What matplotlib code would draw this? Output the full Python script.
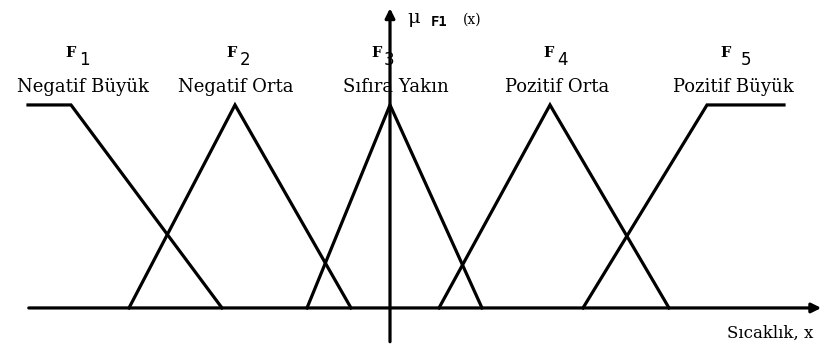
import matplotlib.pyplot as plt

# membership function breakpoints (x in arbitrary temperature units, y = membership)
f1_x = [-36.2, -31.9, -16.8]
f1_y = [1, 1, 0]
f2_x = [-26.1, -15.5, -3.9]
f2_y = [0, 1, 0]
f3_x = [-8.3, 0.0, 9.2]
f3_y = [0, 1, 0]
f4_x = [4.9, 16.0, 27.9]
f4_y = [0, 1, 0]
f5_x = [19.3, 31.7, 39.4]
f5_y = [0, 1, 1]

names = ["Negatif Büyük", "Negatif Orta", "Sıfıra Yakın", "Pozitif Orta", "Pozitif Büyük"]
subs = ["1", "2", "3", "4", "5"]
name_x = [-30.7, -15.4, 0.6, 16.7, 34.3]
f_x = [-31.9, -15.8, -1.3, 15.9, 33.6]
sub_dx = [1.3, 1.3, 1.2, 1.3, 2.0]

fig = plt.figure(figsize=(8.24, 3.52), dpi=100)
ax = fig.add_axes([0, 0, 1, 1])
ax.set_xlim(-39.0, 43.4)
ax.set_ylim(-0.217, 1.517)
ax.axis("off")

lw = 2.3
for xs, ys in [(f1_x, f1_y), (f2_x, f2_y), (f3_x, f3_y), (f4_x, f4_y), (f5_x, f5_y)]:
    ax.plot(xs, ys, color="black", lw=lw, solid_joinstyle="miter")

# axes with arrows
ax.annotate("", xy=(43.4, 0), xytext=(-36.4, 0),
            arrowprops=dict(arrowstyle="-|>", color="black", lw=lw, mutation_scale=14))
ax.annotate("", xy=(0, 1.49), xytext=(0, -0.18),
            arrowprops=dict(arrowstyle="-|>", color="black", lw=lw, mutation_scale=14))

for i in range(5):
    ax.text(name_x[i], 1.09, names[i], ha="center", va="center",
            fontsize=13, family="DejaVu Serif")
    ax.text(f_x[i], 1.256, "F", ha="center", va="center",
            fontsize=10.5, family="DejaVu Serif", fontweight="bold")
    ax.text(f_x[i] + sub_dx[i], 1.22, subs[i], ha="center", va="center",
            fontsize=12, family="DejaVu Sans")

ax.text(1.7, 1.43, "μ", ha="left", va="center", fontsize=14, family="DejaVu Serif")
ax.text(4.1, 1.41, "F1", ha="left", va="center", fontsize=10, family="DejaVu Sans Mono",
        fontweight="bold")
ax.text(7.3, 1.42, "(x)", ha="left", va="center", fontsize=10, family="DejaVu Serif")
ax.text(42.3, -0.125, "Sıcaklık, x", ha="right", va="center", fontsize=12, family="DejaVu Serif")

fig.savefig("out.png", dpi=100)
